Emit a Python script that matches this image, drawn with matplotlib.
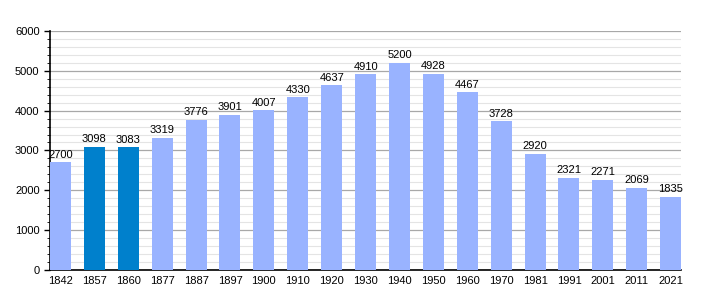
import matplotlib
matplotlib.use("Agg")
import matplotlib.pyplot as plt
from matplotlib.ticker import MultipleLocator

years = ["1842", "1857", "1860", "1877", "1887", "1897", "1900", "1910", "1920", "1930",
         "1940", "1950", "1960", "1970", "1981", "1991", "2001", "2011", "2021"]
population = [2700, 3098, 3083, 3319, 3776, 3901, 4007, 4330, 4637, 4910,
              5200, 4928, 4467, 3728, 2920, 2321, 2271, 2069, 1835]
highlight = ["1857", "1860"]

plt.rcParams['font.family'] = ['Liberation Sans', 'DejaVu Sans']

fig = plt.figure(figsize=(7.1, 3.0), dpi=100)
ax = fig.add_axes([0.0704, 0.1, 0.889, 0.797])

colors = ["#0080cc" if y in highlight else "#99b3ff" for y in years]
x = range(len(years))
width = 0.62
ax.bar(x, population, width=width, color=colors, zorder=3)

for i, v in enumerate(population):
    ax.text(i, v + 60, str(v), ha="center", va="bottom", fontsize=8, zorder=4)

ax.set_xlim(-width / 2, len(years) - 1 + width / 2)
ax.set_ylim(0, 6000)
ax.set_xticks(list(x))
ax.set_xticklabels(years, fontsize=8)
ax.yaxis.set_major_locator(MultipleLocator(1000))
ax.yaxis.set_minor_locator(MultipleLocator(200))
ax.tick_params(axis="y", labelsize=8, length=4, width=1)
ax.tick_params(axis="y", which="minor", length=2)
ax.tick_params(axis="x", length=0, pad=4)

ax.grid(axis="y", which="major", color="#a8a8a8", linewidth=0.9, zorder=0)
ax.grid(axis="y", which="minor", color="#e4e4e4", linewidth=0.8, zorder=0)
for s in ["top", "right"]:
    ax.spines[s].set_visible(False)
ax.spines["left"].set_linewidth(1.2)
ax.spines["bottom"].set_linewidth(1.2)

fig.savefig("out.png", dpi=100)
